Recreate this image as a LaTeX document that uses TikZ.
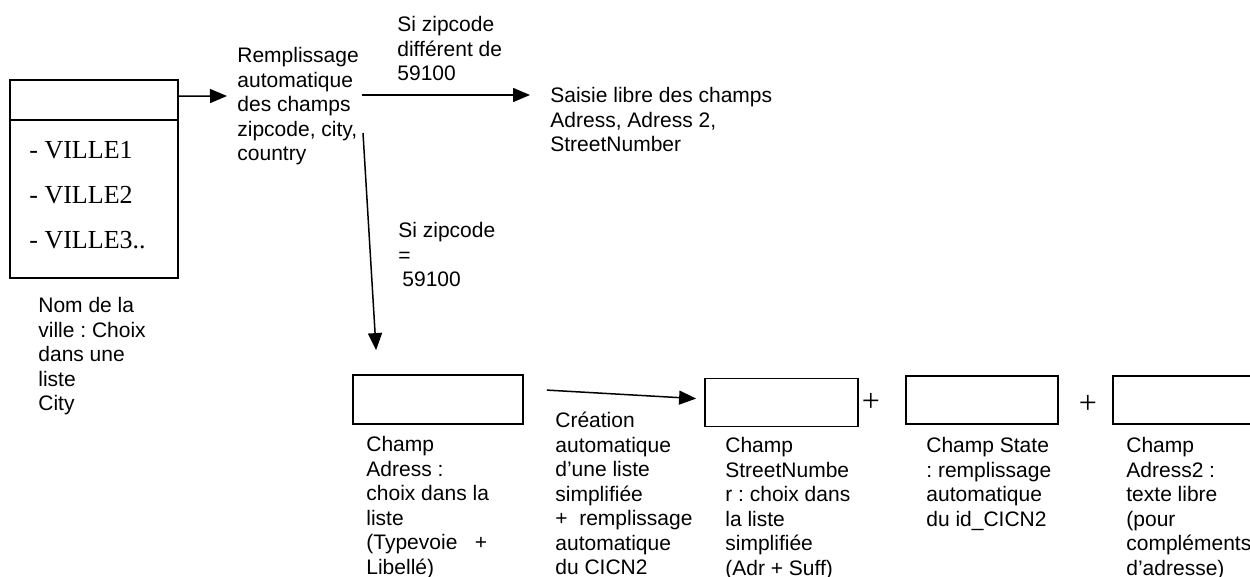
\documentclass[tikz,border=0pt]{standalone}
\usepackage{fontspec}
\setmainfont{Liberation Sans}
\newfontfamily\villefont{Liberation Serif}
\usetikzlibrary{arrows.meta}
\frenchspacing

\begin{document}
\begin{tikzpicture}[x=0.5pt, y=-0.5pt,
    field/.style={rectangle, draw, line width=0.9pt, inner sep=0pt},
    lbl/.style={anchor=north west, inner sep=0pt, align=left, font=\fontsize{10.5}{12.25}\selectfont},
    ville/.style={anchor=base west, inner sep=0pt, font=\villefont\fontsize{13}{15}\selectfont},
    plus/.style={inner sep=0pt, font=\villefont\fontsize{16}{16}\selectfont},
    arr/.style={-{Triangle[length=8.5pt, width=7pt]}, line width=0.75pt}]
    \path[use as bounding box, clip] (0,0) rectangle (1250,577);

    % liste des villes
    \node[field, minimum width=84pt, minimum height=99pt] (city) at (94,179) {};
    \draw[line width=0.9pt] ([shift={(0,41)}]city.north west) -- ([shift={(0,41)}]city.north east);
    \node[ville] (v1) at (29,159) {- VILLE1};
    \node[ville] (v2) at (29,204) {- VILLE2};
    \node[ville] (v3) at (29,249) {- VILLE3..};
    \node[lbl] (nom) at (38,297) {Nom de la\\ville : Choix\\dans une\\liste\\City};

    % remplissage et conditions
    \node[lbl] (rempl) at (237,47) {Remplissage\\automatique\\des champs\\zipcode, city,\\country};
    \node[lbl] (cond1) at (397,16) {Si zipcode\\différent de\\59100};
    \node[lbl] (saisie) at (550,87) {Saisie libre des champs\\Adress, Adress 2,\\StreetNumber};
    \node[lbl] (cond2) at (398,222) {Si zipcode\\=\\\hspace*{2pt}59100};

    % champs
    \node[field, minimum width=85pt, minimum height=24.5pt] (adr) at (438,399.5) {};
    \node[field, minimum width=76.5pt, minimum height=24pt] (street) at (781.5,402.5) {};
    \node[field, minimum width=76pt, minimum height=24pt] (state) at (982,400) {};
    \node[field, minimum width=76pt, minimum height=24pt] (adr2) at (1189,400) {};
    \node[plus] (p1) at (871,402) {+};
    \node[plus] (p2) at (1088,404) {+};

    \node[lbl] (lblAdr) at (366,436) {Champ\\Adress :\\choix dans la\\liste\\(Typevoie \ \ +\\Libellé)};
    \node[lbl] (creation) at (555,412) {Création\\automatique\\d’une liste\\simplifiée\\+ \ remplissage\\automatique\\du CICN2};
    \node[lbl] (lblStreet) at (725,437) {Champ\\StreetNumbe\\r : choix dans\\la liste\\simplifiée\\(Adr + Suff)};
    \node[lbl] (lblState) at (926,437) {Champ State\\: remplissage\\automatique\\du id\_CICN2};
    \node[lbl] (lblAdr2) at (1126,437) {Champ\\Adress2 :\\texte libre\\(pour\\compléments\\d’adresse)};

    % fleches
    \draw[arr] ([shift={(0,17)}]city.north east) -- ([shift={(-10,49)}]rempl.north west);
    \draw[arr] ([shift={(125,48)}]rempl.north west) -- ([shift={(-20,8)}]saisie.north west);
    \draw[arr] ([shift={(126,86)}]rempl.north west) -- ([shift={(24,-24)}]adr.north west);
    \draw[arr] ([shift={(23,16)}]adr.north east) -- ([shift={(-8,21)}]street.north west);
\end{tikzpicture}
\end{document}
